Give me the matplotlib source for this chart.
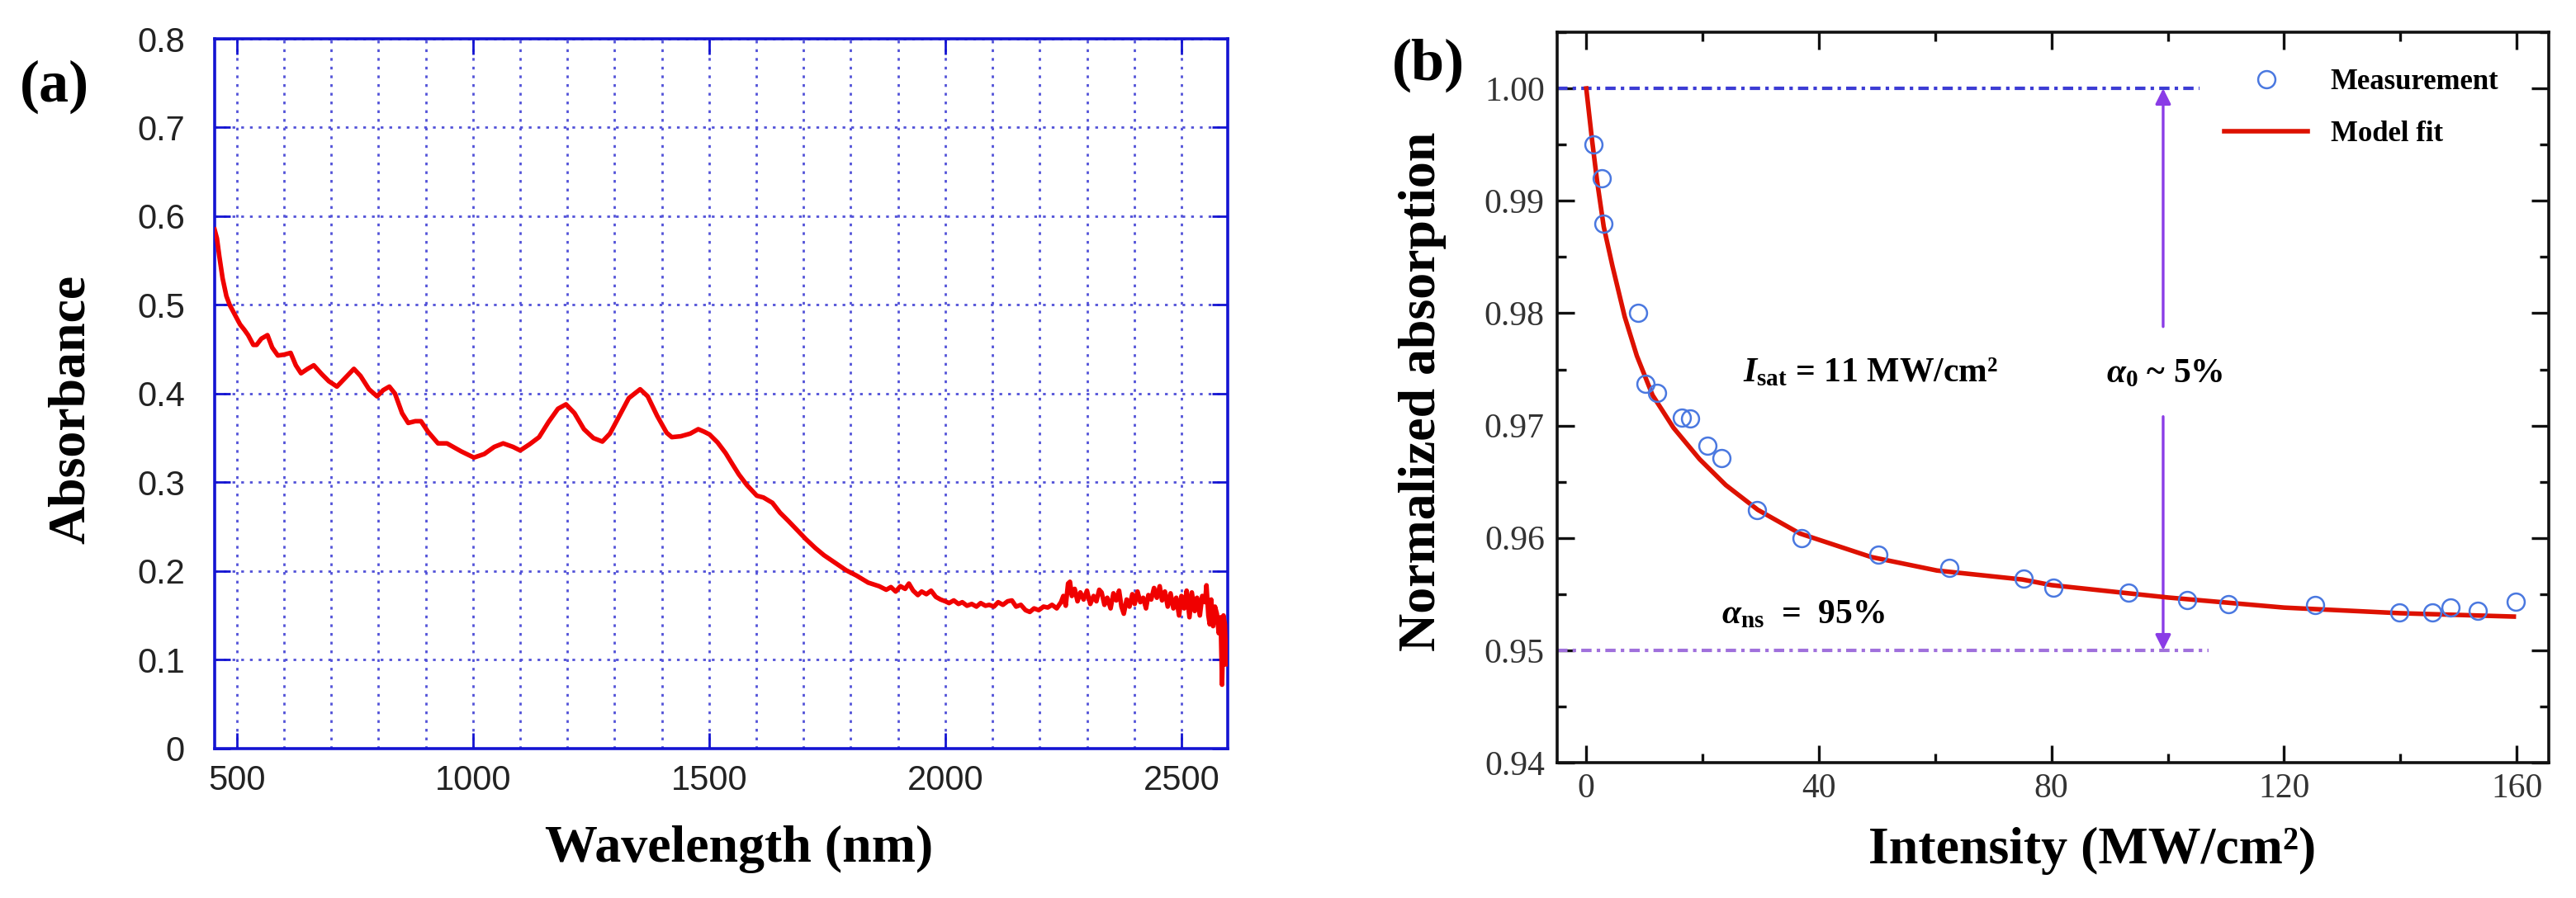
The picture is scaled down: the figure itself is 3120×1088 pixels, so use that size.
import matplotlib
matplotlib.use('Agg')
import matplotlib.pyplot as plt
from matplotlib.ticker import MultipleLocator, FormatStrFormatter, FuncFormatter

plt.rcParams['mathtext.fontset'] = 'custom'
plt.rcParams['mathtext.rm'] = 'Liberation Serif:bold'
plt.rcParams['mathtext.it'] = 'Liberation Serif:italic:bold'
plt.rcParams['mathtext.bf'] = 'Liberation Serif:bold'

# (a) absorbance spectrum
wavelength = [453, 458, 463, 470, 478, 485, 495, 507, 516, 524, 535, 542, 552, 565, 575, 587,
              600, 614, 625, 636, 650, 663, 680, 695, 712, 730, 748, 762, 780, 797, 810, 823,
              835, 850, 863, 878, 890, 905, 926, 945, 975, 1002, 1024, 1045, 1064, 1085, 1100,
              1120, 1140, 1160, 1180, 1197, 1215, 1235, 1255, 1274, 1290, 1310, 1330, 1354,
              1370, 1390, 1410, 1421, 1440, 1460, 1477, 1490, 1501, 1518, 1535, 1550, 1563,
              1580, 1601, 1615, 1634, 1650, 1667, 1685, 1705, 1725, 1743, 1765, 1790, 1812,
              1837, 1860, 1875, 1885, 1895, 1905, 1915, 1923, 1932, 1942, 1950, 1960, 1970,
              1980, 1990, 2000, 2008, 2018, 2028, 2036, 2046, 2056, 2066, 2075, 2085, 2093,
              2103, 2112, 2122, 2132, 2141, 2150, 2160, 2170, 2179, 2188, 2198, 2208, 2217,
              2226, 2236, 2245, 2250, 2255, 2260, 2264, 2268, 2274, 2280, 2286, 2293, 2300,
              2307, 2314, 2320, 2326, 2331, 2337, 2343, 2350, 2356, 2362, 2368, 2373, 2378,
              2384, 2390, 2396, 2401, 2407, 2413, 2419, 2425, 2430, 2436, 2442, 2448, 2454,
              2459, 2465, 2471, 2477, 2483, 2489, 2495, 2500, 2506, 2511, 2517, 2522, 2528,
              2533, 2539, 2544, 2550, 2553, 2557, 2560, 2563, 2567, 2571, 2575, 2579, 2583,
              2586, 2589, 2592, 2595]
absorbance = [0.585, 0.575, 0.555, 0.530, 0.510, 0.500, 0.490, 0.478, 0.472, 0.466, 0.455, 0.455,
              0.462, 0.466, 0.452, 0.443, 0.444, 0.446, 0.432, 0.423, 0.428, 0.432, 0.422, 0.414,
              0.408, 0.418, 0.428, 0.420, 0.405, 0.397, 0.404, 0.408, 0.400, 0.378, 0.367, 0.369,
              0.369, 0.357, 0.344, 0.344, 0.335, 0.328, 0.332, 0.340, 0.344, 0.340, 0.336, 0.343,
              0.351, 0.368, 0.383, 0.388, 0.378, 0.360, 0.350, 0.346, 0.355, 0.375, 0.395, 0.405,
              0.397, 0.375, 0.356, 0.351, 0.352, 0.355, 0.360, 0.357, 0.354, 0.345, 0.333, 0.320,
              0.309, 0.297, 0.285, 0.283, 0.277, 0.266, 0.257, 0.247, 0.236, 0.226, 0.218, 0.210,
              0.201, 0.195, 0.187, 0.183, 0.179, 0.182, 0.177, 0.183, 0.180, 0.186, 0.178, 0.173,
              0.177, 0.174, 0.178, 0.171, 0.168, 0.166, 0.164, 0.167, 0.163, 0.165, 0.161, 0.163,
              0.160, 0.164, 0.161, 0.162, 0.160, 0.165, 0.162, 0.166, 0.167, 0.160, 0.162, 0.156,
              0.154, 0.158, 0.156, 0.160, 0.159, 0.162, 0.158, 0.165, 0.172, 0.161, 0.186, 0.188,
              0.172, 0.180, 0.166, 0.176, 0.168, 0.178, 0.163, 0.172, 0.166, 0.179, 0.176, 0.162,
              0.170, 0.158, 0.175, 0.167, 0.178, 0.160, 0.152, 0.168, 0.160, 0.174, 0.163, 0.177,
              0.165, 0.170, 0.158, 0.173, 0.168, 0.181, 0.170, 0.183, 0.167, 0.177, 0.160, 0.175,
              0.158, 0.170, 0.150, 0.172, 0.158, 0.178, 0.148, 0.176, 0.155, 0.170, 0.150, 0.172,
              0.165, 0.184, 0.150, 0.140, 0.168, 0.138, 0.160, 0.152, 0.130, 0.148, 0.072, 0.150,
              0.140, 0.095]

# (b) normalized absorption vs intensity
intensity = [1.3, 2.6, 2.9, 8.9, 10.2, 12.2, 16.5, 17.8, 20.9, 23.2, 29.3, 37.0, 50.2, 62.5,
             75.2, 80.3, 93.3, 103.3, 110.4, 125.3, 139.8, 145.5, 148.6, 153.3, 159.8]
norm_abs = [0.9950, 0.9920, 0.9880, 0.9800, 0.9737, 0.9729, 0.9707, 0.9706, 0.9682, 0.9671,
            0.9625, 0.9600, 0.9585, 0.9573, 0.9564, 0.9556, 0.9551, 0.9545, 0.9541, 0.9540,
            0.9534, 0.9534, 0.9538, 0.9535, 0.9543]
fit_intensity = [0, 0.95, 1.85, 3.0, 4.5, 6.6, 8.7, 11.4, 15.0, 19.5, 24.0, 29.5, 36.7, 49.0,
                 60.3, 75, 80, 100, 120, 140, 159.5]
fit_abs = [1.000, 0.9956, 0.9918, 0.9877, 0.9842, 0.9797, 0.9762, 0.9727, 0.9698, 0.9670,
           0.9647, 0.9625, 0.9604, 0.9583, 0.9571, 0.9563, 0.9558, 0.9547, 0.9538, 0.9533, 0.9530]

alpha_top = 1.00
alpha_ns = 0.95
arrow_x = 99.2
arrow_gap = (0.9708, 0.9788)

fig = plt.figure(figsize=(31.2, 10.88), dpi=100)

# ---------- panel (a)
blue = '#1414d2'
ax1 = fig.add_axes([0.0833, 0.1664, 0.3933, 0.7904])
ax1.plot(wavelength, absorbance, color='#f00000', lw=4, zorder=3)
ax1.set_xlim(453, 2598)
ax1.set_ylim(0, 0.8)
ax1.xaxis.set_major_locator(MultipleLocator(500))
ax1.xaxis.set_minor_locator(MultipleLocator(100))
ax1.yaxis.set_major_locator(MultipleLocator(0.1))
ax1.yaxis.set_major_formatter(FuncFormatter(lambda v, p: '0' if abs(v) < 1e-9 else f'{v:.1f}'))
grid_style = dict(color='#5252d8', ls=(0, (1.2, 2.6)), lw=2)
ax1.grid(True, which='both', axis='x', **grid_style)
ax1.grid(True, which='major', axis='y', **grid_style)
ax1.set_axisbelow(True)
ax1.tick_params(which='major', direction='in', length=14, width=2, color=blue,
                top=True, right=True, labelsize=30, labelcolor='#222222',
                labelfontfamily='Liberation Sans')
ax1.tick_params(axis='x', which='major', pad=14)
ax1.tick_params(axis='y', which='major', pad=26)
ax1.tick_params(which='minor', length=0)
for s in ax1.spines.values():
    s.set_color(blue)
    s.set_linewidth(2.6)
ax1.set_xlabel('Wavelength (nm)', family='Liberation Serif', weight='bold', fontsize=46)
ax1.set_ylabel('Absorbance', family='Liberation Serif', weight='bold', fontsize=46)
ax1.xaxis.label.set_va('center')
ax1.yaxis.label.set_va('center')
ax1.xaxis.set_label_coords(0.518, -0.142)
ax1.yaxis.set_label_coords(-0.141, 0.478)
fig.text(0.0212, 0.9035, '(a)', family='Liberation Serif', weight='bold', fontsize=52,
         ha='center', va='center')

# ---------- panel (b)
ax2 = fig.add_axes([0.6045, 0.1507, 0.3849, 0.8134])
ax2.plot([-5, 105.5], [alpha_top, alpha_top], color='#3c3cd4', lw=3,
         ls=(0, (3, 1.5, 1, 1.5)), zorder=2)
ax2.plot([-5, 107], [alpha_ns, alpha_ns], color='#a070dc', lw=3,
         ls=(0, (3, 1.5, 1, 1.5)), zorder=2)
arrow_props = dict(arrowstyle='-|>', color='#8a3ce6', lw=2.4, mutation_scale=28,
                   shrinkA=0, shrinkB=0)
ax2.annotate('', xy=(arrow_x, alpha_top), xytext=(arrow_x, arrow_gap[1]), arrowprops=arrow_props)
ax2.annotate('', xy=(arrow_x, alpha_ns), xytext=(arrow_x, arrow_gap[0]), arrowprops=arrow_props)

ax2.plot(intensity, norm_abs, ls='none', marker='o', ms=15, mfc='none', mec='#4a78e0',
         mew=1.8, label='Measurement', zorder=4)
ax2.plot(fit_intensity, fit_abs, color='#dd1100', lw=4, label='Model fit', zorder=3)

ax2.set_xlim(-5, 165.5)
ax2.set_ylim(0.94, 1.005)
ax2.xaxis.set_major_locator(MultipleLocator(40))
ax2.xaxis.set_minor_locator(MultipleLocator(20))
ax2.yaxis.set_major_locator(MultipleLocator(0.01))
ax2.yaxis.set_minor_locator(MultipleLocator(0.005))
ax2.xaxis.set_major_formatter(FormatStrFormatter('%d'))
ax2.yaxis.set_major_formatter(FormatStrFormatter('%.2f'))
ax2.tick_params(which='both', direction='in', top=True, right=True, width=2.4, color='#111111')
ax2.tick_params(which='major', length=15, labelsize=30, labelcolor='#333333',
                labelfontfamily='Liberation Serif')
ax2.tick_params(which='minor', length=8)
ax2.tick_params(axis='x', which='major', pad=9)
ax2.tick_params(axis='y', which='major', pad=11)
for s in ax2.spines.values():
    s.set_color('#111111')
    s.set_linewidth(2.6)

ax2.set_xlabel('Intensity (MW/cm²)', family='Liberation Serif', weight='bold', fontsize=46)
ax2.set_ylabel('Normalized absorption', family='Liberation Serif', weight='bold', fontsize=46)
ax2.xaxis.label.set_va('center')
ax2.yaxis.label.set_va('center')
ax2.xaxis.set_label_coords(0.5396, -0.121)
ax2.yaxis.set_label_coords(-0.1357, 0.508)

txt = dict(family='Liberation Serif', weight='bold', fontsize=30, va='center')
ax2.text(27, 0.9747, r'$I_{\mathrm{sat}}$ = 11 MW/cm²', ha='left', **txt)
ax2.text(99.4, 0.9746, r'$\alpha_0$ ~ 5%', ha='center', **txt)
ax2.text(23.3, 0.9531, r'$\alpha_{\mathrm{ns}}$  =  95%', ha='left', **txt)

ax2.legend(loc='upper left', bbox_to_anchor=(0.673, 0.95), frameon=False, borderpad=0,
           borderaxespad=0, handlelength=2.9, handletextpad=0.8, labelspacing=0.85,
           prop=dict(family='Liberation Serif', weight='bold', size=25))

fig.text(0.5545, 0.9274, '(b)', family='Liberation Serif', weight='bold', fontsize=52,
         ha='center', va='center')

fig.savefig('out.png', dpi=100)
